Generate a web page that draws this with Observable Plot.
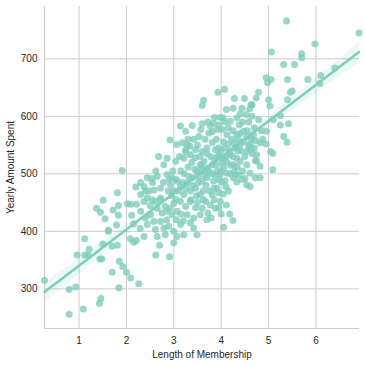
<!DOCTYPE html>
<html><head><meta charset="utf-8">
<script src="https://cdn.jsdelivr.net/npm/d3@7"></script>
<script src="https://cdn.jsdelivr.net/npm/@observablehq/plot@0.6"></script>
<style>body{margin:0;background:#fff;}</style>
</head><body><div id="chart"></div>
<script>
const membership = [
5.38,6.91,5.98,5.06,5.70,5.70,5.32,5.55,4.95,5.05,
4.98,5.40,5.83,6.10,6.08,6.40,4.79,4.74,5.00,5.46,
5.50,5.40,4.65,5.03,
4.07,3.93,3.63,3.60,4.28,4.49,4.63,4.60,4.44,4.40,
4.25,4.11,4.04,3.98,3.86,4.19,4.33,4.53,4.79,5.25,
5.25,5.42,5.10,4.96,5.32,5.39,3.14,3.39,3.25,3.60,
3.77,3.81,3.74,3.53,2.92,3.06,3.18,3.28,4.02,3.91,
4.12,4.05,4.33,4.47,4.54,4.68,4.72,4.82,4.75,4.61,
4.54,4.40,4.26,4.95,5.04,5.09,4.72,5.09,2.68,2.86,
2.79,3.04,3.21,3.35,3.46,3.60,3.70,3.81,3.88,3.95,
4.05,4.19,4.33,4.26,4.40,4.54,4.75,4.82,4.05,4.12,
4.34,4.61,4.72,2.44,2.54,2.65,2.37,2.47,2.58,2.72,
2.86,2.96,3.07,2.93,3.00,3.14,3.28,3.39,3.21,3.35,
3.49,3.56,3.46,3.60,3.70,3.70,3.81,3.91,3.98,3.84,
3.91,4.08,4.10,4.26,4.33,4.44,4.54,4.61,4.82,3.81,
3.95,3.56,3.67,3.77,3.98,3.95,4.11,3.35,3.46,3.14,
3.25,3.00,3.07,3.28,3.42,3.56,3.70,3.79,4.25,4.05,
3.42,3.49,3.14,3.21,2.89,3.00,2.72,2.79,2.51,2.58,
2.30,2.40,2.44,2.61,2.30,2.37,2.72,2.82,2.86,2.96,
2.44,2.61,2.37,2.65,2.82,3.07,
2.62,2.91,2.70,3.00,
0.27,1.12,0.96,1.12,1.21,1.19,1.50,1.48,1.44,1.62,
1.70,1.81,0.79,0.93,0.79,1.09,1.46,1.43,1.70,1.84,
1.85,1.92,2.00,2.09,2.26,2.08,2.15,2.21,1.55,1.62,
1.79,1.83,2.11,2.15,2.29,
1.91,1.81,1.51,1.37,1.45,1.72,1.83,2.02,2.20,2.09,
2.21,
3.22,3.30,3.38,3.44,3.52,3.58,3.64,3.66,3.74,3.78,
3.85,3.90,3.94,4.00,4.02,4.08,4.15,4.18,4.22,4.30,
4.36,4.42,4.48,4.50,4.58,4.64,4.66,4.70,3.10,3.18,
3.26,3.32,3.40,3.48,3.52,3.62,3.68,3.75,3.85,3.88,
4.00,4.04,4.15,4.20,4.28,4.38,4.45,4.50,2.95,3.05,
2.78,2.88,2.98,3.12,3.25,3.34,3.42,3.50,3.66,3.72,
3.84,3.95,4.08,4.15,4.25,4.38,4.45,4.58,4.65,4.70,
2.55,2.65,2.75,2.85,2.92,3.05,3.15,3.20,3.35,3.60,
3.72,3.88,4.00,4.18,3.50,2.50,2.40,2.55,2.30,2.62,
3.25,4.30,3.57,4.63,2.72,3.36,3.45,3.90,4.10,4.20,
3.55,3.80,3.95,4.40,4.55,3.30,3.15,3.05,2.90,3.62,
3.85,4.12,4.35,4.85,4.88,3.70,3.58,4.00,4.25,3.92
];
const spent = [
766,745,726,712,709,702,690,690,667,664,
659,664,664,671,657,684,642,632,629,642,
644,629,620,618,
647,642,628,619,631,631,620,613,614,604,
614,612,597,598,598,591,597,603,594,601,
585,587,594,574,565,555,583,584,574,587,
583,573,571,565,559,551,554,551,577,577,
568,556,568,574,565,568,558,554,533,551,
539,551,554,552,539,536,523,507,530,527,
516,522,527,533,542,539,545,554,542,533,
527,533,527,516,522,516,522,513,510,501,
512,501,493,493,492,496,478,470,472,475,
499,493,487,481,470,478,484,493,464,470,
504,516,475,487,493,510,516,504,499,487,
475,488,478,493,486,490,481,478,493,464,
467,464,452,446,452,441,446,452,441,452,
443,449,435,429,423,429,420,423,419,407,
406,394,412,394,409,400,417,406,429,417,
435,423,458,452,464,452,458,443,435,429,
412,403,391,391,394,391,
359,356,376,380,
315,387,359,359,369,358,378,352,352,400,
374,376,299,303,256,265,283,275,329,302,
348,339,329,319,309,387,381,384,422,402,
411,428,428,413,405,
506,467,454,440,433,437,445,448,477,447,
447,
500,512,520,508,496,505,522,498,505,530,
525,515,545,540,520,545,552,540,560,545,
560,540,556,530,548,560,535,545,470,485,
474,495,480,462,485,470,480,470,455,498,
486,465,470,500,505,498,505,492,462,456,
485,470,505,530,538,548,560,550,560,590,
588,585,590,580,575,585,590,590,600,580,
455,440,432,420,440,420,430,418,415,440,
432,440,430,430,450,445,470,485,485,505,
542,499,577,542,455,455,528,560,530,515,
530,500,490,570,575,560,505,490,490,455,
475,520,540,575,560,535,515,505,530,530
];
const xTicks = [1, 2, 3, 4, 5, 6];
const yTicks = [300, 400, 500, 600, 700];
const xDomain = [0.27, 6.92];
const yDomain = [231, 791];
const xLabel = "Length of Membership";
const yLabel = "Yearly Amount Spent";

const data = membership.map((x, i) => ({x, y: spent[i]}));
const color = "#7fcdbb";
const grid = "#cccccc";

const chart = Plot.plot({
  width: 365, height: 365,
  marginTop: 6, marginRight: 6, marginBottom: 37, marginLeft: 44,
  style: {fontFamily: "'Liberation Sans', Arial, sans-serif", fontSize: "10px", color: "#262626", background: "#fff"},
  x: {domain: xDomain},
  y: {domain: yDomain},
  marks: [
    Plot.gridX(xTicks, {stroke: grid, strokeOpacity: 1, strokeWidth: 1}),
    Plot.gridY(yTicks, {stroke: grid, strokeOpacity: 1, strokeWidth: 1}),
    Plot.ruleX([xDomain[0]], {stroke: grid, strokeWidth: 1.2}),
    Plot.ruleY([yDomain[0]], {stroke: grid, strokeWidth: 1.2}),
    Plot.dot(data, {x: "x", y: "y", r: 3.5, fill: color, fillOpacity: 0.8, stroke: "none"}),
    Plot.linearRegressionY(data, {x: "x", y: "y", stroke: color, strokeWidth: 2.5, fill: color, fillOpacity: 0.15, ci: 0.95}),
    Plot.axisX(xTicks, {tickSize: 0, tickPadding: 8, label: xLabel, labelAnchor: "center", labelArrow: "none", labelOffset: 29, fill: "#262626"}),
    Plot.axisY(yTicks, {tickSize: 0, tickPadding: 7, label: yLabel, labelAnchor: "center", labelArrow: "none", labelOffset: 38, fill: "#262626"})
  ]
});
document.getElementById("chart").appendChild(chart);
</script>
</body></html>
